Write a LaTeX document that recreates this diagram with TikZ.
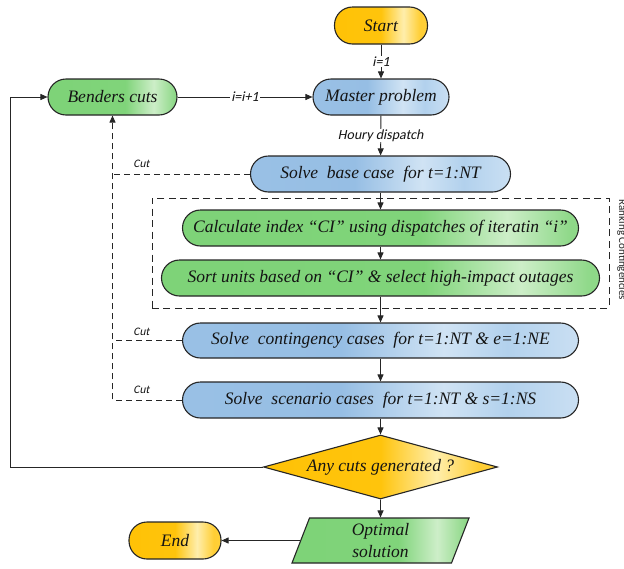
\documentclass[tikz,border=0pt]{standalone}
\usepackage{fontspec}
\setmainfont{Carlito}
\newfontfamily\boxfont{Liberation Serif}
\newfontfamily\lblfont[FakeSlant=0.2]{Carlito}
\usetikzlibrary{shapes.geometric,arrows.meta,fit}
\definecolor{lineC}{RGB}{38,38,38}
\definecolor{textC}{RGB}{20,20,20}
\definecolor{bA}{RGB}{157,195,230}
\definecolor{bB}{RGB}{150,190,228}
\definecolor{bC}{RGB}{208,227,244}
\definecolor{bD}{RGB}{178,209,237}
\definecolor{bE}{RGB}{236,244,251}
\definecolor{gA}{RGB}{124,210,118}
\definecolor{gB}{RGB}{128,212,122}
\definecolor{gC}{RGB}{205,238,200}
\definecolor{gD}{RGB}{142,216,136}
\definecolor{gE}{RGB}{168,226,162}
\definecolor{oA}{RGB}{255,192,0}
\definecolor{oB}{RGB}{255,196,12}
\definecolor{oC}{RGB}{255,238,172}
\definecolor{oD}{RGB}{255,206,52}
\definecolor{oE}{RGB}{255,214,80}
\pgfdeclarehorizontalshading{glossblue}{100bp}{color(0bp)=(bA); color(45bp)=(bB); color(58bp)=(bC); color(66bp)=(bD); color(88bp)=(bE); color(100bp)=(white)}
\pgfdeclarehorizontalshading{glossgreen}{100bp}{color(0bp)=(gA); color(55bp)=(gB); color(66bp)=(gC); color(74bp)=(gD); color(100bp)=(gE)}
\pgfdeclarehorizontalshading{glossorange}{100bp}{color(0bp)=(oA); color(50bp)=(oB); color(62bp)=(oC); color(71bp)=(oD); color(100bp)=(oE)}
\begin{document}
\begin{tikzpicture}[x=1pt,y=-1pt,
  boxtxt/.style={font=\boxfont\itshape\fontsize{17.5}{20}\selectfont, text=textC},
  term/.style={boxtxt, draw=lineC, line width=1.1pt, rounded corners=18pt,
    minimum height=36pt, inner sep=0pt, shade},
  bluebox/.style={term, shading=glossblue},
  greenbox/.style={term, shading=glossgreen},
  orangebox/.style={term, shading=glossorange},
  arr/.style={draw=lineC, line width=0.9pt, -{Triangle[length=7pt,width=6pt]}},
  cutl/.style={draw=lineC, line width=0.9pt, dash pattern=on 6pt off 4pt},
  lbl/.style={fill=white, inner sep=1pt, font=\lblfont\fontsize{14}{15}\selectfont, text=textC},
  cutlbl/.style={inner sep=0pt, font=\lblfont\fontsize{11.5}{12}\selectfont, text=textC}
]
\useasboundingbox (0,0) rectangle (624,568);
\fill[white] (0,0) rectangle (624,568);

\node[orangebox, minimum width=93pt, minimum height=37pt] (start) at (381,25.5) {Start};
\node[bluebox, minimum width=136pt] (master) at (381,97) {Master problem};
\node[greenbox, minimum width=129pt] (benders) at (112.5,97) {Benders cuts};
\node[bluebox, minimum width=260pt] (base) at (380.5,174) {Solve\ \ base case\ \ for t=1:NT};
\node[greenbox, minimum width=396pt] (calc) at (380.5,228) {Calculate index “CI” using dispatches of iteratin “i”};
\node[greenbox, minimum width=438pt] (sort) at (380.5,278) {Sort units based on “CI” \& select high-impact outages};
\node[draw=lineC, line width=0.9pt, dash pattern=on 7pt off 4.5pt, inner xsep=9pt, inner ysep=11.5pt, fit=(calc)(sort)] (rank) {};
\node[rotate=-90, anchor=base, inner sep=0pt, font=\fontsize{11}{12}\selectfont, text=lineC] (ranklbl) at (619,250) {Ranking Contingencies};
\node[bluebox, minimum width=396pt, minimum height=35pt] (cont) at (380.5,340.5) {Solve\ \ contingency cases\ \ for t=1:NT \& e=1:NE};
\node[bluebox, minimum width=396pt] (scen) at (380.5,400) {Solve\ \ scenario cases\ \ for t=1:NT \& s=1:NS};
\node[boxtxt, shape=diamond, aspect=3.66, inner sep=0pt, minimum width=234pt, minimum height=64pt,
  draw=lineC, line width=1.1pt, shade, shading=glossorange] (dec) at (380.5,467) {Any cuts generated ?};
\node[boxtxt, shape=trapezium, trapezium left angle=63, trapezium right angle=117,
  trapezium stretches body, minimum width=177pt, minimum height=45pt, inner sep=0pt,
  draw=lineC, line width=1.1pt, shade, shading=glossgreen, align=center,
  font=\boxfont\itshape\fontsize{17.5}{22}\selectfont] (opt) at (380.5,540.5) {Optimal\\solution};
\node[orangebox, minimum width=92pt, minimum height=37pt] (end) at (175,540.5) {End};

\coordinate (loopx) at (10,0);

\draw[arr] (start) -- node[lbl]{i=1} (master);
\draw[arr] (benders) -- node[lbl]{i=i+1} (master);
\draw[arr] (master) -- node[lbl]{Houry dispatch} (base);
\draw[arr] (base) -- (calc);
\draw[arr] (calc) -- (sort);
\draw[arr] (sort) -- (cont);
\draw[arr] (cont) -- (scen);
\draw[arr] (scen) -- (dec);
\draw[arr] (dec) -- (opt);
\draw[arr] (opt) -- (end);
\draw[arr] (dec.west) -- (dec.west -| loopx) |- (benders.west);

\draw[cutl] (base.west) -- (base.west -| benders.south);
\draw[cutl] (cont.west) -- (cont.west -| benders.south);
\draw[cutl, -{Triangle[length=7pt,width=6pt]}] (scen.west) -- (scen.west -| benders.south) -- (benders.south);
\path (base.west -| benders.south) ++(29,-10.5) node[cutlbl] (cut1) {Cut};
\path (cont.west -| benders.south) ++(29,-9) node[cutlbl] (cut2) {Cut};
\path (scen.west -| benders.south) ++(29,-10) node[cutlbl] (cut3) {Cut};
\end{tikzpicture}
\end{document}
